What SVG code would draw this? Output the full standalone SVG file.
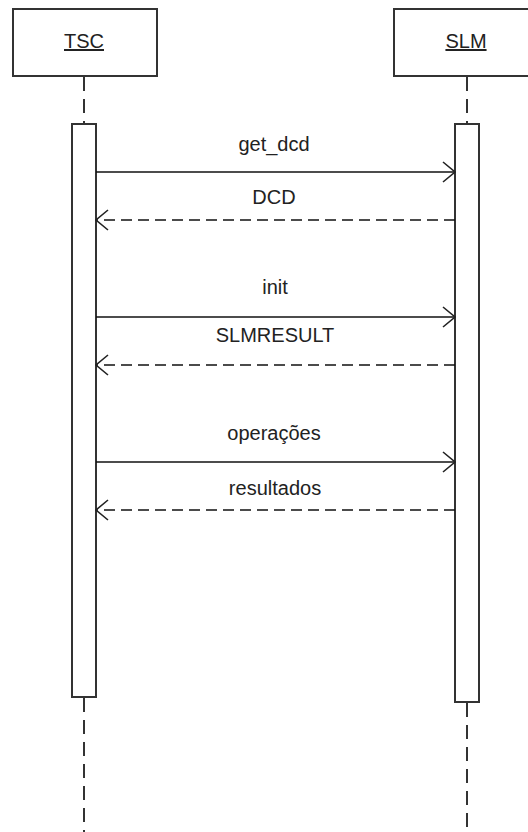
<svg xmlns="http://www.w3.org/2000/svg" width="528" height="832" viewBox="0 0 528 832">
<defs>
<marker id="open" viewBox="0 0 14 22" refX="13" refY="11" markerWidth="14" markerHeight="22" markerUnits="userSpaceOnUse" orient="auto">
<path d="M1,1 L13,11 L1,21" fill="none" stroke="#222" stroke-width="1.6"/>
</marker>
</defs>
<style>
.box{fill:#fff;stroke:#333;stroke-width:2}
.act{fill:#fff;stroke:#333;stroke-width:2}
.life{stroke:#333;stroke-width:2;stroke-dasharray:14 8;fill:none}
.msg{stroke:#111;stroke-width:1.6;fill:none}
.ret{stroke:#111;stroke-width:1.6;fill:none;stroke-dasharray:11 6}
.lbl{font-family:"Liberation Sans",Arial,sans-serif;font-size:20px;fill:#222;text-anchor:middle}
.name{font-family:"Liberation Sans",Arial,sans-serif;font-size:20px;fill:#222;text-anchor:middle;text-decoration:underline}
</style>
<rect width="528" height="832" fill="#fff"/>
<g id="TSC">
<line class="life" x1="84" y1="77" x2="84" y2="124"/>
<line class="life" x1="84" y1="698" x2="84" y2="832"/>
<rect class="box" x="13" y="9" width="144" height="67"/>
<text class="name" x="84" y="48">TSC</text>
<rect class="act" x="72" y="124" width="24" height="573"/>
</g>
<g id="SLM">
<line class="life" x1="467" y1="77" x2="467" y2="124"/>
<line class="life" x1="467" y1="703" x2="467" y2="832"/>
<rect class="box" x="394" y="9" width="146" height="67"/>
<text class="name" x="466" y="48">SLM</text>
<rect class="act" x="455" y="124" width="24" height="578"/>
</g>
<g id="connectors">
<line class="msg" x1="96" y1="172" x2="455" y2="172" marker-end="url(#open)"/>
<text class="lbl" x="274" y="151">get_dcd</text>
<line class="ret" x1="455" y1="220" x2="96" y2="220" marker-end="url(#open)"/>
<text class="lbl" x="274" y="204">DCD</text>
<line class="msg" x1="96" y1="317" x2="455" y2="317" marker-end="url(#open)"/>
<text class="lbl" x="275" y="294">init</text>
<line class="ret" x1="455" y1="365" x2="96" y2="365" marker-end="url(#open)"/>
<text class="lbl" x="275" y="342">SLMRESULT</text>
<line class="msg" x1="96" y1="462" x2="455" y2="462" marker-end="url(#open)"/>
<text class="lbl" x="274" y="440">operações</text>
<line class="ret" x1="455" y1="510" x2="96" y2="510" marker-end="url(#open)"/>
<text class="lbl" x="275" y="495">resultados</text>
</g>
</svg>
